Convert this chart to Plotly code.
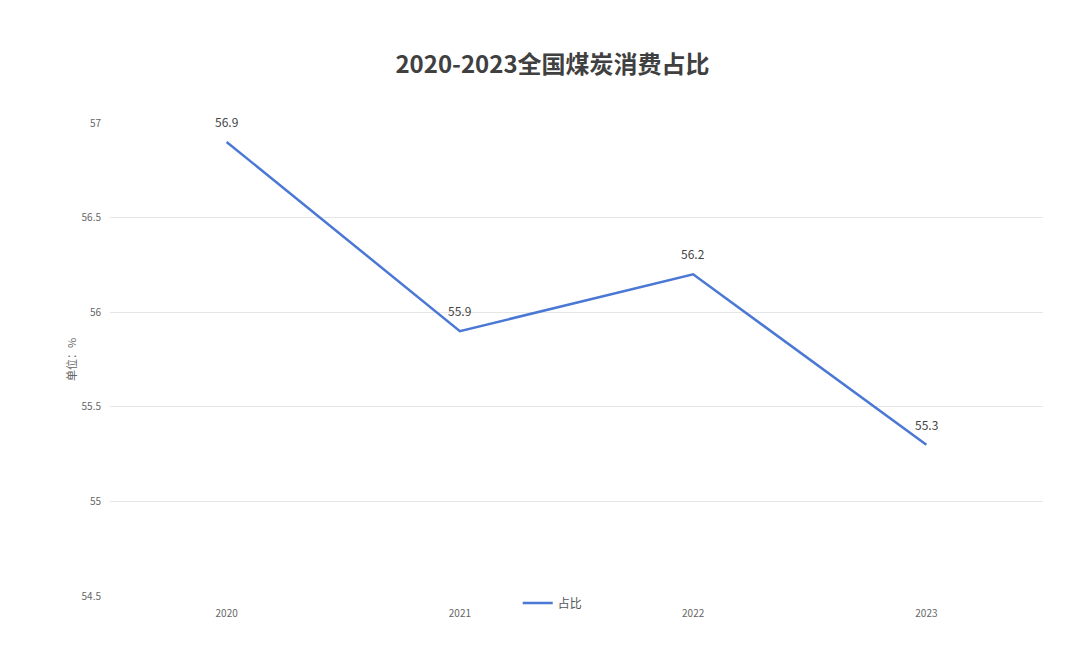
import plotly.graph_objects as go

years = ["2020", "2021", "2022", "2023"]
share = [56.9, 55.9, 56.2, 55.3]
title_text = "2020-2023全国煤炭消费占比"
series_name = "占比"
y_title = "单位：%"

font_family = "Noto Sans CJK SC, Noto Sans, sans-serif"

fig = go.Figure()
fig.add_trace(go.Scatter(
    x=years,
    y=share,
    name=series_name,
    mode="lines",
    line=dict(color="#4a78d4", width=2.5),
    cliponaxis=False,
))

# value labels above each point (category axis positions are indices)
for i, v in enumerate(share):
    fig.add_annotation(
        x=i, y=v, xref="x", yref="y", text=f"{v:.1f}",
        showarrow=False, yanchor="bottom", yshift=10,
        font=dict(size=12, color="#444444", family=font_family),
    )

fig.update_layout(
    width=1080,
    height=647,
    paper_bgcolor="white",
    plot_bgcolor="white",
    margin=dict(l=110, r=37, t=123, b=51),
    title=dict(
        text=f"<b>{title_text}</b>",
        x=0.5116,
        xanchor="center",
        y=1 - 65 / 647,
        yanchor="middle",
        font=dict(size=24, color="#404040", family=font_family),
    ),
    font=dict(family=font_family, color="#666666"),
    showlegend=True,
    legend=dict(
        orientation="h",
        x=0.437,
        xanchor="left",
        y=-0.015,
        yanchor="middle",
        font=dict(size=12, color="#555555"),
        bgcolor="rgba(0,0,0,0)",
        itemwidth=30,
    ),
)

fig.update_xaxes(
    type="category",
    range=[-0.5, 3.5],
    showgrid=False,
    showline=False,
    ticks="outside",
    ticklen=8,
    tickcolor="rgba(0,0,0,0)",
    tickfont=dict(size=10, color="#666666"),
    zeroline=False,
)

fig.update_yaxes(
    range=[54.5, 57],
    dtick=0.5,
    tick0=54.5,
    showgrid=True,
    gridcolor="#e6e6e6",
    gridwidth=1,
    zeroline=False,
    showline=False,
    ticks="outside",
    ticklen=6,
    tickcolor="rgba(0,0,0,0)",
    tickfont=dict(size=10, color="#666666"),
    title=dict(text=y_title, font=dict(size=11, color="#666666"), standoff=2),
)

fig.write_html("out.html")
